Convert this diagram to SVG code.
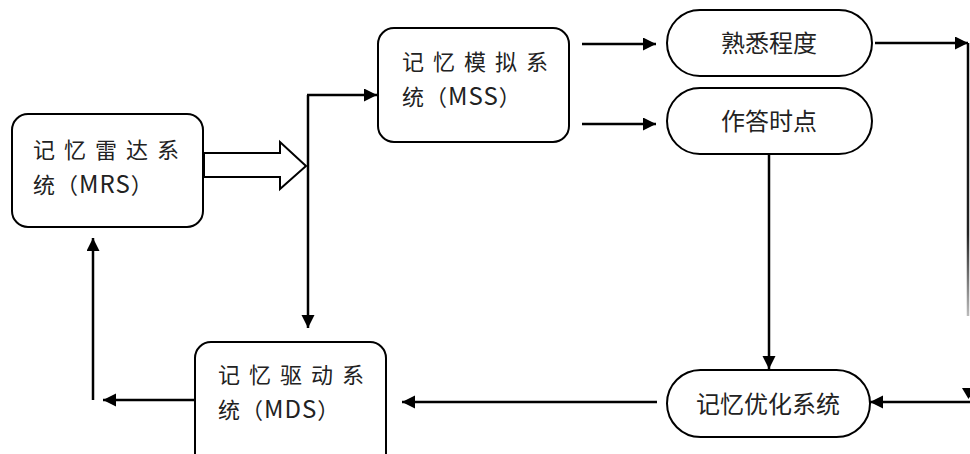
<svg xmlns="http://www.w3.org/2000/svg" width="970" height="454" viewBox="0 0 970 454">
<defs>
<style>
.box{fill:#fff;stroke:#000;stroke-width:2}
.t{font-family:"Noto Sans CJK SC","Noto Sans",sans-serif;fill:#222}
.sp{font-size:22px;letter-spacing:9px}
.l2{font-size:22px;letter-spacing:1px}
.lat{font-size:24px}
.pt{font-size:24px;text-anchor:middle}
.c{fill:none;stroke:#000;stroke-width:2.5}
</style>
<marker id="ah" markerUnits="userSpaceOnUse" markerWidth="14" markerHeight="14" refX="13" refY="6.5" orient="auto">
<path d="M0,0 L13,6.5 L0,13 z" fill="#000"/>
</marker>
<linearGradient id="fade" gradientUnits="userSpaceOnUse" x1="0" y1="43" x2="0" y2="316">
<stop offset="0" stop-color="#000"/>
<stop offset="0.7" stop-color="#222"/>
<stop offset="1" stop-color="#bbb"/>
</linearGradient>
</defs>
<rect width="970" height="454" fill="#fff"/>

<g id="connectors">
<polygon points="204,153 280,153 280,142 306,166 280,189 280,177 204,177" fill="#fff" stroke="#000" stroke-width="2"/>
<path class="c" d="M307,95 H377" marker-end="url(#ah)"/>
<path class="c" d="M308,95 V328" marker-end="url(#ah)"/>
<path class="c" d="M582,44 H656" marker-end="url(#ah)"/>
<path class="c" d="M582,124 H656" marker-end="url(#ah)"/>
<path class="c" d="M875,43 H968" marker-end="url(#ah)"/>
<path d="M968,43 V316" fill="none" stroke="url(#fade)" stroke-width="2.5"/>
<polygon points="962,388 975,388 968.5,399" fill="#000"/>
<path class="c" d="M970,402 H870" marker-end="url(#ah)"/>
<path class="c" d="M769,155 V369" marker-end="url(#ah)"/>
<path class="c" d="M657,402 H402" marker-end="url(#ah)"/>
<path class="c" d="M195,400 H103" marker-end="url(#ah)"/>
<path class="c" d="M93,400 V238" marker-end="url(#ah)"/>
</g>

<g id="mrs">
<rect class="box" x="12" y="114" width="191" height="113" rx="16"/>
<text class="t sp" x="33" y="158">记忆雷达系</text>
<text class="t l2" x="33" y="193">统（<tspan class="lat">MRS</tspan>）</text>
</g>

<g id="mss">
<rect class="box" x="378" y="28" width="191" height="114" rx="16"/>
<text class="t sp" x="402" y="70">记忆模拟系</text>
<text class="t l2" x="402" y="105">统（<tspan class="lat">MSS</tspan>）</text>
</g>

<g id="mds">
<rect class="box" x="195" y="342" width="191" height="130" rx="16"/>
<text class="t sp" x="218" y="383">记忆驱动系</text>
<text class="t l2" x="218" y="418">统（<tspan class="lat">MDS</tspan>）</text>
</g>

<g id="familiarity">
<rect class="box" x="667" y="10" width="205" height="66" rx="33"/>
<text class="t pt" x="769" y="52">熟悉程度</text>
</g>

<g id="timing">
<rect class="box" x="667" y="88" width="205" height="66" rx="33"/>
<text class="t pt" x="769" y="130">作答时点</text>
</g>

<g id="mos">
<rect class="box" x="667" y="370" width="203" height="67" rx="33.5"/>
<text class="t pt" x="768" y="413">记忆优化系统</text>
</g>
</svg>
